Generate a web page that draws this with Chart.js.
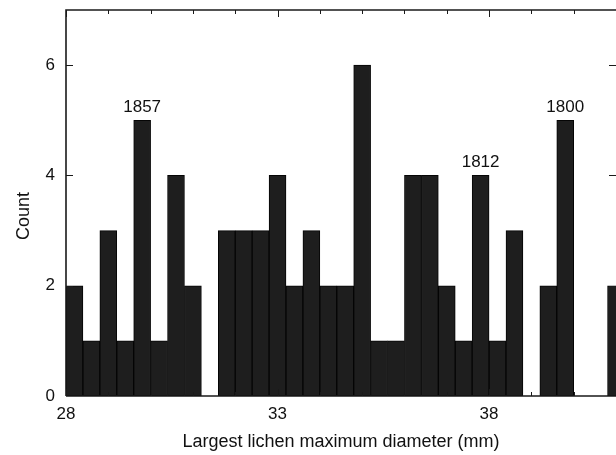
<!DOCTYPE html>
<html>
<head>
<meta charset="utf-8">
<script src="https://cdn.jsdelivr.net/npm/chart.js@4/dist/chart.umd.min.js"></script>
<style>
  html, body { margin: 0; padding: 0; background: #fff; }
  #wrap { width: 616px; height: 455px; }
</style>
</head>
<body>
<div id="wrap"><canvas id="myChart" width="616" height="455"></canvas></div>
<script>
const binStarts = [28.0, 28.4, 28.8, 29.2, 29.6, 30.0, 30.4, 30.8, 31.2, 31.6, 32.0,
                   32.4, 32.8, 33.2, 33.6, 34.0, 34.4, 34.8, 35.2, 35.6, 36.0, 36.4,
                   36.8, 37.2, 37.6, 38.0, 38.4, 38.8, 39.2, 39.6, 40.0, 40.4, 40.8];
const counts    = [2, 1, 3, 1, 5, 1, 4, 2, 0, 3, 3,
                   3, 4, 2, 3, 2, 2, 6, 1, 1, 4, 4,
                   2, 1, 4, 1, 3, 0, 2, 5, 0, 0, 2];
const binWidth  = 0.4;

const xLabelTicks = [28, 33, 38];
const yLabelTicks = [0, 2, 4, 6];

// year labels placed over particular bins
const yearBins   = [29.6, 37.6, 39.6];
const yearLabels = ["1857", "1812", "1800"];

const FONT = "'Liberation Sans', Arial, Helvetica, sans-serif";

const points = binStarts.map((s, i) => ({ x: s + binWidth / 2, y: counts[i] }));

const framePlugin = {
  id: "frame",
  afterDraw(chart) {
    const ctx = chart.ctx;
    const a = chart.chartArea;
    const xs = chart.scales.x, ys = chart.scales.y;
    ctx.save();
    ctx.strokeStyle = "#1a1a1a";
    ctx.lineWidth = 1.6;
    ctx.beginPath();
    ctx.moveTo(a.left, a.bottom);
    ctx.lineTo(a.left, a.top);
    ctx.lineTo(a.right + 2, a.top);
    ctx.moveTo(a.left, a.bottom);
    ctx.lineTo(a.right + 2, a.bottom);
    ctx.stroke();

    // inward ticks
    ctx.lineWidth = 1;
    ctx.beginPath();
    xs.ticks.forEach(t => {
      const px = Math.round(xs.getPixelForValue(t.value)) + 0.5;
      const len = xLabelTicks.includes(t.value) ? 7 : 4;
      ctx.moveTo(px, a.top); ctx.lineTo(px, a.top + len);
      ctx.moveTo(px, a.bottom); ctx.lineTo(px, a.bottom - len);
    });
    ys.ticks.forEach(t => {
      if (t.value === 0) return;
      const py = Math.round(ys.getPixelForValue(t.value)) + 0.5;
      ctx.moveTo(a.left, py); ctx.lineTo(a.left + 7, py);
      ctx.moveTo(a.right, py); ctx.lineTo(a.right - 7, py);
    });
    ctx.stroke();

    // year labels
    ctx.fillStyle = "#111";
    ctx.font = "17px " + FONT;
    ctx.textAlign = "center";
    ctx.textBaseline = "alphabetic";
    yearBins.forEach((b, i) => {
      const idx = binStarts.indexOf(b);
      const px = xs.getPixelForValue(b + binWidth / 2);
      const py = ys.getPixelForValue(counts[idx]) - 8;
      ctx.fillText(yearLabels[i], px, py);
    });

    // axis titles
    ctx.font = "18px " + FONT;
    ctx.fillText("Largest lichen maximum diameter (mm)", 341, 447);
    ctx.save();
    ctx.translate(29, 216);
    ctx.rotate(-Math.PI / 2);
    ctx.fillText("Count", 0, 0);
    ctx.restore();
    ctx.restore();
  }
};

const ctx = document.getElementById("myChart");

new Chart(ctx, {
  type: "bar",
  data: {
    datasets: [{
      data: points,
      backgroundColor: "#1e1e1e",
      borderColor: "#050505",
      borderWidth: 1,
      borderSkipped: false,
      barPercentage: 1.0,
      categoryPercentage: 1.0
    }]
  },
  options: {
    responsive: false,
    animation: false,
    layout: { padding: { top: 10, right: 0, left: 0, bottom: 0 } },
    plugins: { legend: { display: false }, tooltip: { enabled: false } },
    scales: {
      x: {
        type: "linear",
        min: 28,
        max: 41,
        offset: false,
        afterFit: s => {
          s.height = 59;
          s.paddingLeft = 0;
          s.paddingRight = 0;
        },
        ticks: {
          stepSize: 1,
          autoSkip: false,
          maxRotation: 0,
          padding: 8,
          color: "#111",
          font: { size: 17, family: FONT },
          callback: v => xLabelTicks.includes(v) ? String(v) : ""
        },
        grid: { display: false, drawTicks: false },
        border: { display: false }
      },
      y: {
        min: 0,
        max: 7,
        afterFit: s => {
          s.width = 66;
          s.paddingTop = 0;
          s.paddingBottom = 0;
        },
        ticks: {
          stepSize: 1,
          padding: 11,
          color: "#111",
          font: { size: 17, family: FONT },
          callback: v => yLabelTicks.includes(v) ? String(v) : ""
        },
        afterBuildTicks: s => { s.ticks = yLabelTicks.map(v => ({ value: v })); },
        grid: { display: false, drawTicks: false },
        border: { display: false }
      }
    }
  },
  plugins: [framePlugin]
});
</script>
</body>
</html>
